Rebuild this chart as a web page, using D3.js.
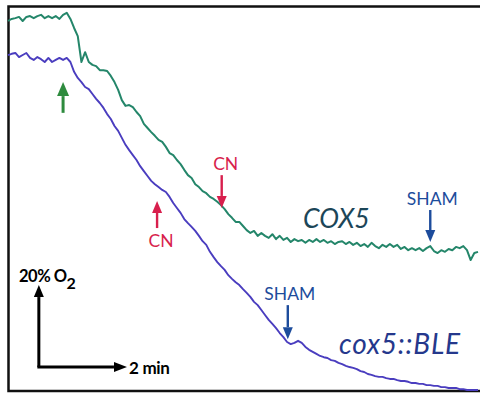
<!DOCTYPE html>
<html>
<head>
<meta charset="utf-8">
<script src="https://cdn.jsdelivr.net/npm/d3@7"></script>
<style>
  html, body { margin: 0; padding: 0; background: #fff; }
  svg text { font-family: Lato, "Open Sans", "DejaVu Sans", sans-serif; }
</style>
</head>
<body>
<div id="chart"></div>
<script>
// sampling step of the O2 traces, seconds
const stepSec = 5;

// O2 (%) every 5 s, wild type
const cox5O2 = [
  90.0, 90.5, 90.7, 91.0, 90.0, 91.0, 91.2, 90.7, 91.2, 91.5,
  90.7, 91.2, 90.7, 91.2, 90.5, 91.5, 92.0, 90.5, 88.3, 86.3,
  80.0, 82.4, 80.0, 79.3, 79.0, 78.0, 78.0, 77.8, 76.6, 75.1,
  73.2, 70.7, 69.3, 69.5, 69.0, 67.8, 66.8, 64.9, 63.9, 62.9,
  62.0, 61.0, 60.5, 59.3, 57.8, 57.3, 56.1, 55.1, 53.7, 52.4,
  51.7, 50.2, 49.5, 48.5, 48.0, 47.1, 46.6, 45.9, 45.1, 44.1,
  42.9, 42.0, 41.0, 41.0, 40.0, 39.0, 38.3, 38.8, 37.6, 38.3,
  37.6, 37.1, 38.0, 36.8, 37.6, 36.6, 37.1, 36.1, 36.8, 36.3,
  36.6, 35.9, 36.6, 36.1, 36.8, 36.1, 36.6, 35.9, 36.3, 35.6,
  36.1, 36.3, 35.6, 36.1, 35.4, 35.9, 35.1, 35.6, 34.9, 35.9,
  35.1, 34.6, 35.4, 34.9, 35.6, 34.9, 35.4, 34.4, 34.9, 34.1,
  34.6, 34.1, 34.6, 33.9, 34.6, 35.1, 33.9, 33.4, 34.1, 33.7,
  34.4, 34.1, 34.9, 34.6, 35.1, 34.1, 31.7, 33.4, 33.7
];

// O2 (%) every 5 s, cox5::BLE
const bleO2 = [
  81.7, 82.0, 82.2, 81.2, 81.7, 82.2, 81.0, 80.5, 81.2, 80.7,
  80.0, 81.0, 80.0, 80.5, 81.0, 80.5, 81.0, 80.0, 77.6, 76.1,
  75.1, 73.9, 73.4, 72.2, 71.0, 70.0, 68.8, 67.3, 66.1, 64.4,
  63.2, 61.5, 59.8, 58.5, 57.3, 56.1, 54.6, 53.4, 52.2, 51.0,
  50.2, 49.5, 48.8, 48.3, 47.1, 45.6, 44.4, 43.2, 41.7, 40.7,
  39.8, 38.8, 37.6, 36.3, 35.4, 33.7, 32.4, 31.2, 30.2, 29.3,
  28.0, 27.1, 26.3, 25.6, 24.6, 23.7, 22.7, 21.5, 20.7, 19.5,
  18.3, 17.1, 16.1, 15.1, 13.9, 12.9, 11.7, 11.2, 11.5, 12.0,
  11.5, 10.5, 9.8, 9.3, 8.8, 8.3, 8.0, 7.8, 7.3, 7.1,
  6.6, 6.3, 5.9, 5.6, 5.4, 5.1, 4.6, 4.4, 3.9, 3.7,
  3.4, 3.2, 3.2, 2.9, 2.7, 2.7, 2.4, 2.2, 2.2, 2.0,
  1.7, 1.7, 1.5, 1.5, 1.2, 1.2, 1.0, 1.0, 0.7, 0.7,
  0.5, 0.5, 0.5, 0.2, 0.2, 0.0, 0.0, 0.0, 0.0
];

// additions: time (s), arrow from / to O2 (%)
const eventLabels = ['', 'CN', 'CN', 'SHAM', 'SHAM'];
const eventTimes = [75, 203, 291, 575, 381];
const eventFrom = [67.6, 39.5, 52.4, 43.9, 20.7];
const eventTo = [75.1, 46.1, 44.4, 36.1, 12.4];
const eventColors = ['#2e8b3e', '#d81f4d', '#d81f4d', '#1d4c9c', '#1d4c9c'];

// scale bar: 2 min by 20 % O2
const barTime = 120, barO2 = 20;

const W = 480, H = 397;
const svg = d3.select('#chart').append('svg')
  .attr('width', W).attr('height', H);

svg.append('rect').attr('width', W).attr('height', H).attr('fill', '#fff');

const x = d3.scaleLinear().domain([0, 640]).range([8, 478]);
const y = d3.scaleLinear().domain([0, 20]).range([390, 308]);

// frame (no right side in the original)
svg.append('path')
  .attr('d', `M${W},6.5 H8.5 V391 H${W}`)
  .attr('fill', 'none')
  .attr('stroke', '#111')
  .attr('stroke-width', 2.5);

const line = d3.line()
  .x((d, i) => x(i * stepSec))
  .y(d => y(d));

svg.append('path').datum(cox5O2)
  .attr('d', line)
  .attr('fill', 'none')
  .attr('stroke', '#24866a')
  .attr('stroke-width', 2)
  .attr('stroke-linejoin', 'round');

svg.append('path').datum(bleO2)
  .attr('d', line)
  .attr('fill', 'none')
  .attr('stroke', '#4a3dbf')
  .attr('stroke-width', 1.9)
  .attr('stroke-linejoin', 'round');

// arrow with filled head at (x2,y2)
function arrow(x1, y1, x2, y2, color, w, headLen, headW) {
  const a = Math.atan2(y2 - y1, x2 - x1);
  const bx = x2 - headLen * Math.cos(a), by = y2 - headLen * Math.sin(a);
  svg.append('line')
    .attr('x1', x1).attr('y1', y1).attr('x2', bx).attr('y2', by)
    .attr('stroke', color).attr('stroke-width', w);
  const px = -Math.sin(a) * headW / 2, py = Math.cos(a) * headW / 2;
  svg.append('path')
    .attr('d', `M${x2},${y2} L${bx + px},${by + py} L${bx - px},${by - py} Z`)
    .attr('fill', color);
}

eventTimes.forEach((t, i) => {
  const ex = x(t);
  const big = i === 0;
  arrow(ex, y(eventFrom[i]), ex, y(eventTo[i]), eventColors[i],
    big ? 3 : 2.4, big ? 14 : 12, big ? 12 : 10);
  if (!eventLabels[i]) return;
  const up = eventTo[i] > eventFrom[i];
  svg.append('text')
    .attr('x', ex + (eventLabels[i] === 'CN' ? 4 : 2))
    .attr('y', up ? y(eventFrom[i]) + 19 : y(eventFrom[i]) - 5)
    .attr('text-anchor', 'middle')
    .attr('font-size', eventLabels[i] === 'CN' ? 17.5 : 17.5)
    .attr('fill', eventColors[i])
    .text(eventLabels[i]);
});

// trace names
svg.append('text')
  .attr('x', 303).attr('y', 228)
  .attr('font-size', 26.5).attr('font-style', 'italic')
  .attr('fill', '#1c4658')
  .text('COX5');

svg.append('text')
  .attr('x', 339).attr('y', 354)
  .attr('font-size', 28).attr('font-style', 'italic')
  .attr('letter-spacing', 0.8)
  .attr('fill', '#25388c')
  .text('cox5::BLE');

// scale bar
const bt0 = 42, bo0 = 5.6;
arrow(x(bt0), y(bo0), x(bt0), y(bo0 + barO2), '#000', 3, 12, 10);
arrow(x(bt0) - 1.5, y(bo0), x(bt0 + barTime), y(bo0), '#000', 3, 13, 10);

const lab = svg.append('text')
  .attr('x', 19).attr('y', 282)
  .attr('font-size', 16.5).attr('font-weight', 'bold')
  .attr('letter-spacing', -0.5)
  .attr('fill', '#000');
lab.append('tspan').text('20% O');
lab.append('tspan').attr('dy', 7).attr('font-size', 16).text('2');

svg.append('text')
  .attr('x', 129).attr('y', 374)
  .attr('font-size', 17).attr('font-weight', 'bold')
  .attr('letter-spacing', -0.3)
  .attr('fill', '#000')
  .text('2 min');
</script>
</body>
</html>
